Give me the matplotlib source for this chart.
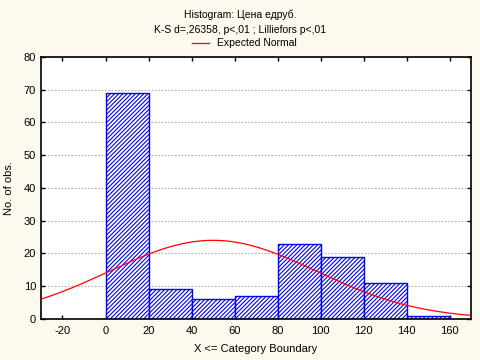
import numpy as np
import matplotlib.pyplot as plt

plt.rcParams['font.family'] = ['Liberation Sans', 'DejaVu Sans']
plt.rcParams['axes.unicode_minus'] = False
plt.rcParams['hatch.color'] = '#0000ff'
plt.rcParams['hatch.linewidth'] = 0.8

# данные гистограммы
bin_edges = [0, 20, 40, 60, 80, 100, 120, 140, 160]
counts = [69, 9, 6, 7, 23, 19, 11, 1]
# параметры ожидаемого нормального распределения
mean_val = 50.0
sd_val = 48.2
n_obs = sum(counts)
bin_width = 20

fig = plt.figure(figsize=(4.8, 3.6), dpi=100)
fig.patch.set_facecolor('#fef9ee')
ax = fig.add_axes([0.0854, 0.114, 0.896, 0.728])
ax.set_facecolor('white')

ax.bar(bin_edges[:-1], counts, width=bin_width, align='edge',
       facecolor='white', edgecolor='#0000ff', linewidth=1.0,
       hatch='////////', zorder=2)

xs = np.linspace(-30, 170, 400)
ys = n_obs * bin_width / (sd_val * np.sqrt(2 * np.pi)) * np.exp(-0.5 * ((xs - mean_val) / sd_val) ** 2)
ax.plot(xs, ys, color='red', linewidth=0.9, zorder=3)

ax.set_xlim(-30, 170)
ax.set_ylim(0, 80)
ax.set_xticks(range(-20, 161, 20))
ax.set_yticks(range(0, 81, 10))
ax.yaxis.grid(True, color='#b0b0b0', linestyle=(0, (1.5, 1.5)), linewidth=0.8)
ax.set_axisbelow(True)
ax.tick_params(axis='both', direction='in', length=3, labelsize=8,
               top=True, right=True, width=1)
ax.tick_params(axis='x', pad=5)
for s in ax.spines.values():
    s.set_linewidth(1.2)

ax.set_xlabel('X <= Category Boundary', fontsize=8, labelpad=6)
ax.set_ylabel('No. of obs.', fontsize=8, labelpad=7)

fig.text(0.5, 0.958, 'Histogram: Цена едруб.', ha='center', va='center', fontsize=7.5)
fig.text(0.5, 0.917, 'K-S d=,26358, p<,01 ; Lilliefors p<,01', ha='center', va='center', fontsize=7.5)
fig.lines.append(plt.Line2D([0.4, 0.435], [0.881, 0.881], color='red', linewidth=0.9,
                            transform=fig.transFigure))
fig.text(0.452, 0.881, 'Expected Normal', ha='left', va='center', fontsize=7.5)

plt.savefig('out.png', dpi=100, facecolor=fig.get_facecolor())
